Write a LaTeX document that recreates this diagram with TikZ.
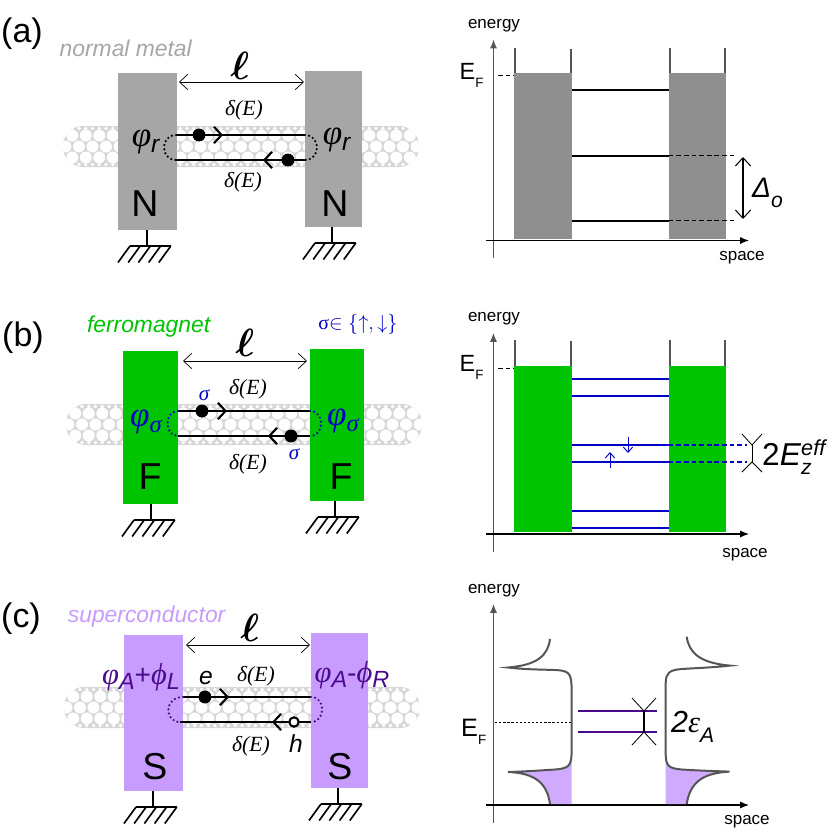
\documentclass[tikz,border=0pt]{standalone}
\usepackage{fontspec}
\setmainfont{Liberation Sans}
\newfontfamily\deltafont{Liberation Serif}
\usetikzlibrary{arrows.meta}
\definecolor{metalgray}{HTML}{A6A6A6}
\definecolor{wellgray}{HTML}{8F8F8F}
\definecolor{tubegray}{HTML}{D6D6D6}
\definecolor{ferrogreen}{HTML}{00C400}
\definecolor{spinblue}{HTML}{0000C8}
\definecolor{scpurple}{HTML}{C89BFF}
\definecolor{andreev}{HTML}{4B0A8C}
\definecolor{dosgray}{HTML}{555555}
\newcommand{\fsz}[1]{\fontsize{#1}{#1}\selectfont}
\newcommand{\grk}[1]{{\deltafont\itshape #1}}
\newcommand{\low}[3]{\raisebox{-#1pt}{\fsz{#2}#3}}
\newcommand{\dlt}{\grk{δ(E)}}
\newcommand{\fermi}{E\low{7}{11.5}{F}}
\tikzset{>={Latex[width=6pt,length=7.5pt]},
	txt/.style={inner sep=0pt,font=\fsz{#1}},
	ellsym/.style={inner sep=0pt,font=\fsz{24}\boldmath,scale=1.35},
	block/.style n args={3}{fill=#1,inner sep=0pt,minimum width=#2*0.03cm,minimum height=#3*0.03cm},
	dimline/.style={{Straight Barb[length=7pt,width=13pt]}-{Straight Barb[length=7pt,width=13pt]},line width=0.6pt},
	path/.style={line width=1.8pt},
	barb/.style={-{Straight Barb[length=6.5pt,width=14pt]},line width=1.8pt},
	loopdots/.style={line width=2.1pt,line cap=round,dash pattern=on 0pt off 3.6pt},
	carrier/.style={circle,fill=black,inner sep=0pt,minimum size=11pt},
	hole/.style={circle,draw=black,fill=white,line width=1.8pt,inner sep=0pt,minimum size=8pt},
	wall/.style={line width=0.9pt,color=dosgray},
	level/.style={line width=1.7pt},
	levelcut/.style={line width=1.1pt,dash pattern=on 4pt off 2.5pt},
	splitmark/.style={line width=0.7pt},
	spinarrow/.style={-{Straight Barb[length=4.5pt,width=8pt]},line width=0.8pt,color=spinblue},
	dos/.style={line width=1.7pt,color=dosgray},
	nanotube/.pic={
		\path[fill=tubegray,rounded corners=17pt] (-178,-20.5) rectangle (178,20.5);
		\begin{scope}
			\clip[rounded corners=17pt] (-178,-20.5) rectangle (178,20.5);
			\foreach \r/\o in {-11/6.75,0/0,11/6.75}
				\foreach \c in {-14,...,14}
					\fill[white] (\c*13.5+\o,\r) circle (6);
			\foreach \r in {-18,18}
				\foreach \c in {-26,...,26}
					\fill[white] (\c*6.75,\r) circle (1.8);
		\end{scope}
	},
	groundbar/.pic={
		\draw[line width=1.4pt] (0,0) -- (0,16);
		\draw[line width=1.4pt] (-17,16) -- (24,16);
		\foreach \i in {0,...,4}
			\draw[line width=1.4pt] (-17+\i*10.2,16) -- ++(-12,16.5);
	},
	axes/.pic={
		\draw[->,line width=1pt,color=dosgray] (0,17.5) -- (0,-201);
		\draw[->,line width=1pt] (-7.5,0) -- (255.5,0);
	}
}
\begin{document}
\begin{tikzpicture}[x=0.03cm,y=-0.03cm]
	\useasboundingbox (0,0) rectangle (830,832);

	\node[txt=29] (labelA) at (22,34) {(a)};
	\node[txt=19.5,color=metalgray] (nameA) at (126,48) {\textit{normal metal}};
	\pic at (241,146.5) {nanotube};
	\node[block={metalgray}{58.5}{157}] (leftA) at (147.25,151.5) {};
	\node[block={metalgray}{57.5}{156}] (rightA) at (333.5,149) {};
	\pic at (147,230) {groundbar};
	\pic at (332,227) {groundbar};
	\node[ellsym] (ellA) at (240,66) {$\ell$};
	\coordinate (dimAl) at (179,82);
	\coordinate (dimAr) at (304,82);
	\draw[dimline] (dimAl) -- (dimAr);
	\node[txt=18.5] (deltaAt) at (244,110) {\dlt};
	\node[txt=18.5] (deltaAb) at (243,182) {\dlt};
	\node[txt=30] (phiAl) at (146,142) {\grk{φ}\low{5}{21}{\textit{r}}};
	\node[txt=30] (phiAr) at (337,140) {\grk{φ}\low{5}{21}{\textit{r}}};
	\node[txt=32] (contactAl) at (145,204) {N};
	\node[txt=32] (contactAr) at (335,204) {N};
	\coordinate (topAl) at (176,135);
	\coordinate (topAr) at (305,135);
	\coordinate (botAl) at (176,160);
	\coordinate (botAr) at (305,160);
	\draw[path] (topAl) -- (topAr);
	\draw[path] (botAl) -- (botAr);
	\draw[loopdots] (topAl) .. controls (160,135) and (160,160) .. (botAl);
	\draw[loopdots] (topAr) .. controls (321,135) and (321,160) .. (botAr);
	\node[carrier] (elecAt) at (199,135) {};
	\node[carrier] (elecAb) at (288,160) {};
	\coordinate (headAt) at (223,135);
	\coordinate (headAb) at (263,160);
	\draw[barb] (elecAt) -- (headAt);
	\draw[barb] (elecAb) -- (headAb);

	\pic at (493.5,240.5) {axes};
	\node[block={wellgray}{58}{166}] (wellAl) at (542.5,156) {};
	\node[block={wellgray}{56.5}{166}] (wellAr) at (697.25,156) {};
	\draw[wall] (515,48) -- (wellAl.north west -| 515,0);
	\draw[wall] (571,49) -- (wellAl.north east -| 571,0);
	\draw[wall] (670,48) -- (wellAr.north west -| 670,0);
	\draw[wall] (725,48) -- (wellAr.north east -| 725,0);
	\foreach \y in {90,156,221}
		\draw[level] (wellAl.east |- 0,\y) -- (wellAr.west |- 0,\y);
	\foreach \y in {155.5,220.5}
		\draw[levelcut] (wellAr.west |- 0,\y) -- (737,\y);
	\draw[dimline,line width=0.9pt] (743,157) -- (743,219);
	\node[txt=14.5] (energyA) at (494,26) {energy};
	\node[txt=14.5] (spaceA) at (742,258) {space};
	\node[txt=20,anchor=base west] (fermiA) at (459.5,79) {\fermi};
	\draw[levelcut,line width=0.7pt] (498,75) -- (wellAl.west |- 0,75);
	\node[txt=24,anchor=base west] (gapA) at (752,197) {\textit{Δ}\low{9}{18}{\textit{o}}};

	\node[txt=29] (labelB) at (23,338) {(b)};
	\node[txt=19.5,color=ferrogreen] (nameB) at (149,327) {\textit{ferromagnet}};
	\node[txt=17,color=spinblue] (spinB) at (358,324) {{\deltafont σ}$\in\{\uparrow,\downarrow\}$};
	\pic at (244,424.5) {nanotube};
	\node[block={ferrogreen}{55}{153}] (leftB) at (150.5,427.5) {};
	\node[block={ferrogreen}{54}{152}] (rightB) at (337,425) {};
	\pic at (151,504) {groundbar};
	\pic at (335,501) {groundbar};
	\node[ellsym] (ellB) at (245,343) {$\ell$};
	\coordinate (dimBl) at (183,361);
	\coordinate (dimBr) at (307,361);
	\draw[dimline] (dimBl) -- (dimBr);
	\node[txt=18.5] (deltaBt) at (248,389) {\dlt};
	\node[txt=18.5] (deltaBb) at (248,464) {\dlt};
	\node[txt=30,color=spinblue] (phiBl) at (146,422) {\grk{φ}\low{5}{21}{\grk{σ}}};
	\node[txt=30,color=spinblue] (phiBr) at (343,421) {\grk{φ}\low{5}{21}{\grk{σ}}};
	\node[txt=32] (contactBl) at (150,477) {F};
	\node[txt=32] (contactBr) at (341,477) {F};
	\coordinate (topBl) at (178,411);
	\coordinate (topBr) at (310,411);
	\coordinate (botBl) at (178,436);
	\coordinate (botBr) at (310,436);
	\draw[path] (topBl) -- (topBr);
	\draw[path] (botBl) -- (botBr);
	\draw[loopdots,color=spinblue] (topBl) .. controls (164,411) and (164,436) .. (botBl);
	\draw[loopdots,color=spinblue] (topBr) .. controls (325,411) and (325,436) .. (botBr);
	\node[carrier] (elecBt) at (202,411) {};
	\node[carrier] (elecBb) at (291,436) {};
	\coordinate (headBt) at (227,411);
	\coordinate (headBb) at (268,436);
	\draw[barb] (elecBt) -- (headBt);
	\draw[barb] (elecBb) -- (headBb);
	\node[txt=18,color=spinblue] (sigmaBt) at (204,395) {\grk{σ}};
	\node[txt=18,color=spinblue] (sigmaBb) at (294,454) {\grk{σ}};

	\pic at (493.5,534) {axes};
	\node[block={ferrogreen}{58}{166}] (wellBl) at (542.5,449) {};
	\node[block={ferrogreen}{56.5}{166}] (wellBr) at (697.25,449) {};
	\draw[wall] (515,340) -- (wellBl.north west -| 515,0);
	\draw[wall] (571,341) -- (wellBl.north east -| 571,0);
	\draw[wall] (670,340) -- (wellBr.north west -| 670,0);
	\draw[wall] (725,340) -- (wellBr.north east -| 725,0);
	\foreach \y in {379,396,445,462,511,528}
		\draw[level,color=spinblue] (wellBl.east |- 0,\y) -- (wellBr.west |- 0,\y);
	\foreach \y in {445,462}
		\draw[levelcut,line width=0.9pt,color=spinblue] (wellBr.west |- 0,\y) -- (747,\y);
	\draw[spinarrow] (628,437) -- (628,453);
	\draw[spinarrow] (610,468) -- (610,452);
	\draw[splitmark] (742,434) -- (752,445) -- (762,434);
	\draw[splitmark] (742,472) -- (752,462) -- (762,472);
	\draw[splitmark] (752,445) -- (752,462);
	\node[txt=14.5] (energyB) at (494,319) {energy};
	\node[txt=14.5] (spaceB) at (745,555) {space};
	\node[txt=20,anchor=base west] (fermiB) at (459.5,371.5) {\fermi};
	\draw[levelcut,line width=0.7pt] (498,368) -- (wellBl.west |- 0,368);
	\node[txt=27,anchor=base west] (zeemanB) at (762,465) {2\textit{E}\rlap{\low{8.5}{18}{\textit{z}}}\raisebox{8.5pt}{\fsz{18.5}\textit{eff}}};

	\node[txt=29] (labelC) at (21,619) {(c)};
	\node[txt=19.5,color=scpurple] (nameC) at (147,617) {\textit{superconductor}};
	\pic at (242,707.5) {nanotube};
	\node[block={scpurple}{59}{156}] (leftC) at (153.5,713) {};
	\node[block={scpurple}{57}{155}] (rightC) at (339.5,710.5) {};
	\pic at (153,791) {groundbar};
	\pic at (338,788) {groundbar};
	\node[ellsym] (ellC) at (250,628) {$\ell$};
	\coordinate (dimCl) at (186,645);
	\coordinate (dimCr) at (310,645);
	\draw[dimline] (dimCl) -- (dimCr);
	\node[txt=18.5] (deltaCt) at (256,676) {\dlt};
	\node[txt=18.5] (deltaCb) at (251,746) {\dlt};
	\node[txt=26,color=andreev] (phiCl) at (141,677) {\grk{φ}\low{4}{20}{\textit{A}}\fsz{24}+\fsz{26}\grk{ϕ}\low{4}{20}{\textit{L}}};
	\node[txt=26,color=andreev] (phiCr) at (352,675) {\grk{φ}\low{4}{20}{\textit{A}}\fsz{24}-\fsz{26}\grk{ϕ}\low{4}{20}{\textit{R}}};
	\node[txt=32] (contactCl) at (155,767) {S};
	\node[txt=32] (contactCr) at (340,767) {S};
	\node[txt=21] (chargeE) at (206,678) {\textit{e}};
	\node[txt=21] (chargeH) at (296,744) {\textit{h}};
	\coordinate (topCl) at (183,697);
	\coordinate (topCr) at (311,697);
	\coordinate (botCl) at (180,722);
	\coordinate (botCr) at (311,722);
	\draw[path] (topCl) -- (topCr);
	\draw[path] (botCl) -- (botCr);
	\draw[loopdots,color=andreev] (topCl) .. controls (164,697) and (164,722) .. (botCl);
	\draw[loopdots,color=andreev] (topCr) .. controls (326,697) and (326,722) .. (botCr);
	\node[carrier] (elecC) at (205,697) {};
	\node[hole] (holeC) at (294,722) {};
	\coordinate (headCt) at (229,697);
	\coordinate (headCb) at (272,722);
	\draw[barb] (elecC) -- (headCt);
	\draw[barb] (holeC) -- (headCb);

	\pic at (493.5,805) {axes};
	\fill[scpurple!85] (571.5,760) -- (571.5,804) -- (550,804) .. controls (547,783) and (535,773) .. (508,772) .. controls (530,771.5) and (545,770.5) .. (555,769.5) .. controls (566,768.5) and (570,766) .. (571.5,760);
	\fill[scpurple!85] (665.7,760) -- (665.7,804) -- (686.7,804) .. controls (690,783) and (702,773) .. (729.5,771.6) .. controls (707,771) and (692,770.5) .. (682,769.5) .. controls (671,768.5) and (667,766) .. (665.7,760);
	\draw[dos] (550,639) .. controls (548,655) and (538,665) .. (508,667.5) .. controls (525,669.5) and (540,669.5) .. (555,670) .. controls (568,670.5) and (571,673) .. (571.5,685) -- (571.5,755) .. controls (571,766) and (568,768.5) .. (555,769.5) .. controls (540,770.5) and (525,771.5) .. (508,772) .. controls (535,773) and (547,783) .. (550,804);
	\draw[dos] (686.7,636.7) .. controls (689,653) and (700,663) .. (730,665.6) .. controls (713,667.5) and (697,668) .. (682,669) .. controls (669,670) and (666,673) .. (665.7,683) -- (665.7,755) .. controls (666,766) and (669,768.5) .. (682,769.5) .. controls (697,770.5) and (712,771) .. (729.5,771.6) .. controls (702,773) and (690,783) .. (686.7,804);
	\foreach \y in {711,732}
		\draw[level,color=andreev] (578,\y) -- (657,\y);
	\draw[splitmark] (632,698) -- (644,711) -- (656,698);
	\draw[splitmark] (632,745) -- (644,732) -- (656,745);
	\draw[line width=0.9pt] (644,711) -- (644,732);
	\node[txt=14.5] (energyC) at (494,591) {energy};
	\node[txt=14.5] (spaceC) at (747,822) {space};
	\node[txt=21.5,anchor=base west] (fermiC) at (461,736) {\fermi};
	\draw[dash pattern=on 2pt off 1.5pt,line width=0.7pt] (495,722.5) -- (571,722.5);
	\node[txt=26,anchor=base west] (andreevC) at (671,732) {\textit{2}\grk{ε}\low{9}{18}{\textit{A}}};
\end{tikzpicture}
\end{document}
